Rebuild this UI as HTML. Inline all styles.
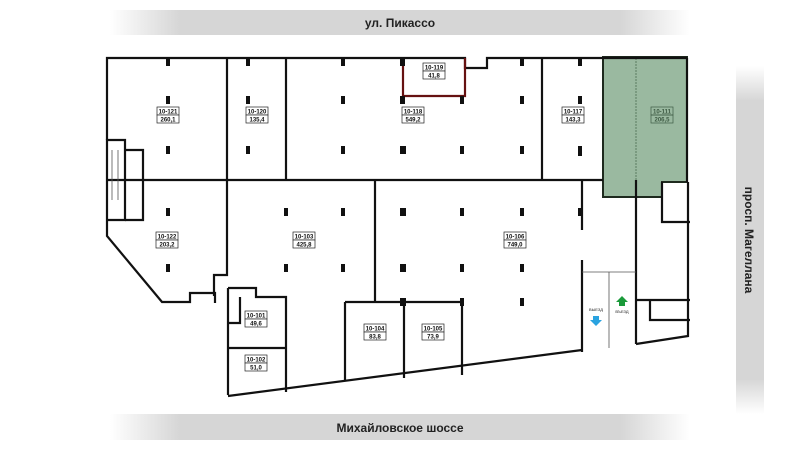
<!DOCTYPE html>
<html><head><meta charset="utf-8"><style>
html,body{margin:0;padding:0;background:#fff;}
svg{display:block;}
text{font-family:"Liberation Sans",sans-serif;}
</style></head><body>
<svg width="800" height="450" viewBox="0 0 800 450" xmlns="http://www.w3.org/2000/svg">
<defs>
<linearGradient id="gh" x1="0" x2="1" y1="0" y2="0">
<stop offset="0" stop-color="#fff"/><stop offset="0.12" stop-color="#d6d6d6"/><stop offset="0.88" stop-color="#d6d6d6"/><stop offset="1" stop-color="#fff"/></linearGradient>
<linearGradient id="gv" x1="0" x2="0" y1="0" y2="1">
<stop offset="0" stop-color="#fff"/><stop offset="0.1" stop-color="#d6d6d6"/><stop offset="0.9" stop-color="#d6d6d6"/><stop offset="1" stop-color="#fff"/></linearGradient>
</defs>
<rect x="110" y="10" width="580" height="25" fill="url(#gh)"/>
<text x="400" y="27" font-size="12" font-weight="600" text-anchor="middle" fill="#222">ул. Пикассо</text>
<rect x="110" y="414" width="580" height="26" fill="url(#gh)"/>
<text x="400" y="432" font-size="12" font-weight="600" text-anchor="middle" fill="#222">Михайловское шоссе</text>
<rect x="736" y="66" width="28" height="348" fill="url(#gv)"/>
<text x="0" y="0" font-size="12" font-weight="600" text-anchor="middle" fill="#222" transform="translate(745,240) rotate(90)">просп. Магеллана</text>

<path d="M603,57 H687 V182 H662 V197 H603 Z" fill="#9ab9a0" stroke="#1e2a1e" stroke-width="2"/>
<line x1="636" y1="58" x2="636" y2="180" stroke="#5a7a60" stroke-width="1" stroke-dasharray="2,1"/>

<g fill="none" stroke="#111" stroke-width="2.2">
<path d="M107,140 V58 H465 V68 H487 V58 H687"/>
<path d="M687,58 V182"/>
<path d="M107,140 H125 V220 H107 Z M107,220 V236 L162,302 H190 V293 H215 V303"/>
<path d="M125,150 H143 V220 H125"/>
<path d="M227,58 V275 H214 V296"/>
<path d="M286,58 V180"/>
<path d="M542,58 V180"/>
<path d="M403,58 V96 H465 V58" stroke="#611"/>
<path d="M107,180 H603"/>
<path d="M375,180 V302"/>
<path d="M228,288 H256 V297 H286 V392"/>
<path d="M228,288 V395"/>
<path d="M240,297 V323 H228"/>
<path d="M228,348 H286"/>
<path d="M345,302 H462 V375"/>
<path d="M345,302 V380"/>
<path d="M404,302 V378"/>
<path d="M228,396 L582,350"/>
<path d="M582,352 V260 M582,230 V180"/>
<path d="M636,344 V180"/>
<path d="M636,344 L688,336 V182"/>
<path d="M662,197 V222 H690 M662,182 V197"/>
<path d="M636,300 H690 M650,300 V320 H690"/>
</g>
<g fill="none" stroke="#555" stroke-width="0.8">
<path d="M582,272 H636 M609,272 V348"/>
<path d="M112,150 V200 M118,150 V200"/>
</g>
<g fill="#111">
<rect x="166" y="58" width="4" height="8"/><rect x="246" y="58" width="4" height="8"/><rect x="341" y="58" width="4" height="8"/><rect x="400" y="58" width="5" height="8"/><rect x="520" y="58" width="4" height="8"/><rect x="578" y="58" width="4" height="8"/>
<rect x="166" y="96" width="4" height="8"/><rect x="246" y="96" width="4" height="8"/><rect x="341" y="96" width="4" height="8"/><rect x="400" y="96" width="5" height="8"/><rect x="460" y="96" width="4" height="8"/><rect x="520" y="96" width="4" height="8"/><rect x="578" y="96" width="4" height="8"/>
<rect x="166" y="146" width="4" height="8"/><rect x="246" y="146" width="4" height="8"/><rect x="341" y="146" width="4" height="8"/><rect x="400" y="146" width="6" height="8"/><rect x="460" y="146" width="4" height="8"/><rect x="520" y="146" width="4" height="8"/><rect x="578" y="146" width="4" height="10"/>
<rect x="166" y="208" width="4" height="8"/><rect x="284" y="208" width="4" height="8"/><rect x="341" y="208" width="4" height="8"/><rect x="400" y="208" width="6" height="8"/><rect x="460" y="208" width="4" height="8"/><rect x="520" y="208" width="4" height="8"/><rect x="578" y="208" width="4" height="8"/>
<rect x="166" y="264" width="4" height="8"/><rect x="284" y="264" width="4" height="8"/><rect x="341" y="264" width="4" height="8"/><rect x="400" y="264" width="6" height="8"/><rect x="460" y="264" width="4" height="8"/><rect x="520" y="264" width="4" height="8"/>
<rect x="400" y="298" width="6" height="8"/><rect x="460" y="298" width="4" height="8"/><rect x="520" y="298" width="4" height="8"/>
</g>
<g font-size="6" font-weight="bold" text-anchor="middle" fill="#111">
<g stroke="#222" stroke-width="0.7" fill="#fff">
<rect x="157" y="107" width="22" height="8"/><rect x="157" y="115" width="22" height="8"/>
<rect x="246" y="107" width="22" height="8"/><rect x="246" y="115" width="22" height="8"/>
<rect x="402" y="107" width="22" height="8"/><rect x="402" y="115" width="22" height="8"/>
<rect x="423" y="63" width="22" height="8"/><rect x="423" y="71" width="22" height="8"/>
<rect x="562" y="107" width="22" height="8"/><rect x="562" y="115" width="22" height="8"/>
<rect x="156" y="232" width="22" height="8"/><rect x="156" y="240" width="22" height="8"/>
<rect x="293" y="232" width="22" height="8"/><rect x="293" y="240" width="22" height="8"/>
<rect x="504" y="232" width="22" height="8"/><rect x="504" y="240" width="22" height="8"/>
<rect x="245" y="311" width="22" height="8"/><rect x="245" y="319" width="22" height="8"/>
<rect x="245" y="355" width="22" height="8"/><rect x="245" y="363" width="22" height="8"/>
<rect x="364" y="324" width="22" height="8"/><rect x="364" y="332" width="22" height="8"/>
<rect x="422" y="324" width="22" height="8"/><rect x="422" y="332" width="22" height="8"/>
</g>
<g stroke="#3d5a43" stroke-width="0.7" fill="none"><rect x="651" y="107" width="22" height="8"/><rect x="651" y="115" width="22" height="8"/></g>
<text x="168" y="113.5">10-121</text><text x="168" y="121.5">260,1</text>
<text x="257" y="113.5">10-120</text><text x="257" y="121.5">135,4</text>
<text x="413" y="113.5">10-118</text><text x="413" y="121.5">549,2</text>
<text x="434" y="69.5">10-119</text><text x="434" y="77.5">41,8</text>
<text x="573" y="113.5">10-117</text><text x="573" y="121.5">143,3</text>
<text x="167" y="238.5">10-122</text><text x="167" y="246.5">203,2</text>
<text x="304" y="238.5">10-103</text><text x="304" y="246.5">425,8</text>
<text x="515" y="238.5">10-106</text><text x="515" y="246.5">749,0</text>
<text x="256" y="317.5">10-101</text><text x="256" y="325.5">49,6</text>
<text x="256" y="361.5">10-102</text><text x="256" y="369.5">51,0</text>
<text x="375" y="330.5">10-104</text><text x="375" y="338.5">83,8</text>
<text x="433" y="330.5">10-105</text><text x="433" y="338.5">73,9</text>
<text x="662" y="113.5" fill="#3d5a43">10-111</text><text x="662" y="121.5" fill="#3d5a43">206,5</text>
</g>
<text x="596" y="311" font-size="4" text-anchor="middle" fill="#222">ВЫЕЗД</text>
<text x="622" y="313" font-size="4" text-anchor="middle" fill="#222">ВЪЕЗД</text>
<path d="M593,316 h6 v4 h3 l-6,6 l-6,-6 h3 z" fill="#2aa3e0"/>
<path d="M619,306 h6 v-4 h3 l-6,-6 l-6,6 h3 z" fill="#1a9a3a"/>
</svg>
</body></html>
